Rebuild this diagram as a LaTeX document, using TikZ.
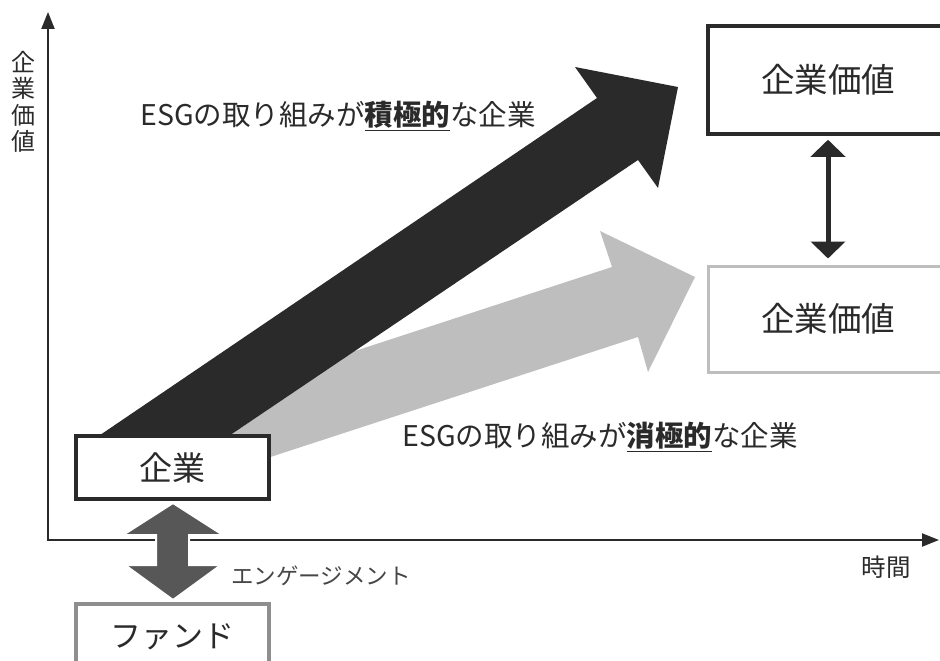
\documentclass[tikz,border=0pt]{standalone}
\usepackage{fontspec}
\setmainfont{Noto Sans CJK JP}
\usetikzlibrary{arrows.meta}
\definecolor{ink}{HTML}{2A2A2A}
\definecolor{paleline}{HTML}{BEBEBE}
\definecolor{fundline}{HTML}{8E8E8E}
\definecolor{engagefill}{HTML}{575757}
\newcommand{\ulstrong}[1]{\underline{\textbf{#1}}}
\begin{document}
\begin{tikzpicture}[x=1pt,y=-1pt,
	box/.style={draw=ink,line width=3.5pt,fill=white,text=ink,inner sep=0pt},
	axis/.style={draw=ink,line width=2.2pt,-{Triangle[length=17pt,width=13pt]}},
	label/.style={text=ink,inner sep=0pt}]
	\useasboundingbox (0,0) rectangle (940,661);
	\clip (0,0) rectangle (940,661);

	%axes
	\coordinate (origin) at (48,540);
	\coordinate (ytop) at (48,12);
	\coordinate (xend) at (939,540);
	\draw[axis] (origin) -- (ytop);
	\draw[axis] ([xshift=-1pt]origin) -- (xend);
	\node[label,font=\fontsize{24}{26.5}\selectfont,align=center] (yname) at (23,102) {企\\業\\価\\値};
	\node[label,font=\fontsize{24.5}{26}\selectfont] (xname) at (886,567) {時間};

	%growth arrows
	\fill[paleline] (150,418) -- (612,267) -- (600,231) -- (695,277) -- (648,372) -- (638,337) -- (200,480) -- cycle;
	\fill[ink] (78,450) -- (597,98) -- (575,67) -- (678,87) -- (658,188) -- (638,160) -- (208,450) -- cycle;

	\node[label,font=\fontsize{28.5}{32}\selectfont] (active) at (338,116) {ESGの取り組みが\ulstrong{積極的}な企業};
	\node[label,font=\fontsize{28.5}{32}\selectfont] (passive) at (600,437) {ESGの取り組みが\ulstrong{消極的}な企業};

	%boxes
	\node[box,minimum width=193,minimum height=63,font=\fontsize{33}{36}\selectfont] (firm) at (172.5,467.5) {企業};
	\node[box,draw=fundline,minimum width=193,minimum height=66,font=\fontsize{31}{34}\selectfont] (fund) at (172.5,637) {ファンド};
	\node[box,minimum width=240,minimum height=108,font=\fontsize{33.5}{36}\selectfont] (high) at (828,80) {企業価値};
	\node[box,draw=paleline,line width=3pt,minimum width=240,minimum height=106,font=\fontsize{33.5}{36}\selectfont] (low) at (828,319) {企業価値};

	\draw[ink,line width=5pt,{Triangle[length=17pt,width=34pt]}-{Triangle[length=17pt,width=34pt]},shorten <=4pt,shorten >=6pt] (high.south) -- (low.north);

	%engagement
	\filldraw[fill=engagefill,draw=white,line width=2pt] (173,503) -- (223,535) -- (189,535) -- (189,565) -- (221,565) -- (173,600) -- (125,565) -- (156,565) -- (156,535) -- (123,535) -- cycle;
	\node[label,text=engagefill!80!black,font=\fontsize{22.5}{24}\selectfont,anchor=west] (engage) at (231,576) {エンゲージメント};
\end{tikzpicture}
\end{document}
